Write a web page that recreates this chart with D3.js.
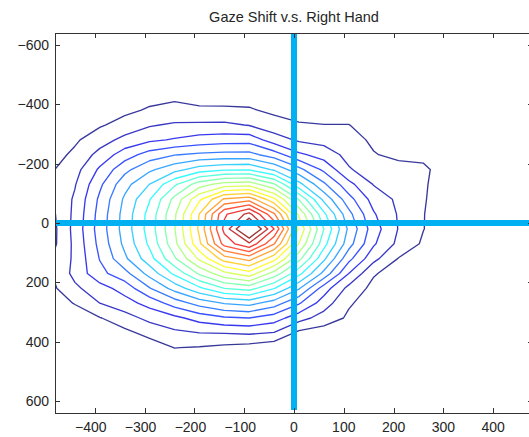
<!DOCTYPE html>
<html>
<head>
<meta charset="utf-8">
<script src="https://cdn.jsdelivr.net/npm/d3@7"></script>
<style>
  body { margin: 0; background: #fff; }
  text { font-family: "Liberation Sans", Arial, Helvetica, sans-serif; fill: #262626; }
</style>
</head>
<body>
<svg id="chart" width="529" height="437"></svg>
<script>
// ---- data -------------------------------------------------------------
const title = "Gaze Shift v.s. Right Hand";

// density grid: columns = gridX, rows = gridY (y grows downward)
const gridX = [-540, -490, -440, -390, -340, -290, -240, -190, -140, -90, -40, 10, 60, 110, 160, 210, 260, 310, 360];
const gridY = [-480, -430, -380, -330, -280, -230, -180, -130, -80, -30, 20, 70, 120, 170, 220, 270, 320, 370, 420, 470];
const density = [
  [0, 0, 0, 0, 0, 0, 0, 0, 0, 0, 0, 0, 0, 0, 0, 0, 0, 0, 0],
  [0, 0.05, 0.1, 0.2, 0.45, 0.7, 0.85, 0.75, 0.6, 0.6, 0.45, 0.35, 0.3, 0.3, 0.15, 0.05, 0, 0, 0],
  [0.05, 0.15, 0.3, 0.5, 0.8, 1.1, 1.2, 1.1, 1.15, 1.1, 0.8, 0.6, 0.55, 0.55, 0.35, 0.2, 0.1, 0, 0],
  [0.1, 0.3, 0.6, 0.9, 1.35, 1.9, 2.15, 2.2, 2.2, 1.95, 1.4, 1.1, 1.02, 1.02, 0.6, 0.45, 0.3, 0.1, 0],
  [0.22, 0.45, 0.86, 1.53, 2.31, 2.8, 3.1, 3.4, 3.55, 3.6, 2.5, 1.84, 1.65, 1.33, 0.85, 0.6, 0.5, 0.2, 0],
  [0.28, 0.6, 1.19, 2.35, 3.5, 4.44, 4.95, 5.2, 5.3, 5.33, 4.5, 3.2, 2.55, 1.69, 1.05, 0.8, 0.8, 0.35, 0.05],
  [0.33, 0.85, 1.63, 3.17, 4.71, 5.82, 6.65, 7.5, 7.86, 7.92, 6.85, 5.3, 3.79, 2.1, 1.46, 1.3, 1.15, 0.6, 0.1],
  [0.37, 0.9, 1.93, 3.8, 5.64, 7.02, 8.83, 10.55, 11.44, 11.61, 10.14, 7.34, 5.19, 3.32, 1.95, 1.55, 1.1, 0.55, 0.1],
  [0.38, 0.92, 2.15, 4.2, 6.17, 7.94, 10.3, 12.81, 15.13, 15.59, 13.24, 9.92, 6.73, 4.38, 2.6, 1.8, 1.07, 0.5, 0.08],
  [0.39, 0.65, 2.25, 4.38, 6.38, 8.35, 10.82, 14.03, 17.83, 19.29, 16.14, 11.82, 8.23, 5.31, 3.1, 1.9, 1.03, 0.4, 0.1],
  [0.4, 0.5, 2.33, 4.46, 6.43, 8.45, 10.94, 14.22, 18.28, 21.9, 18.0, 12.82, 9.0, 5.8, 3.46, 1.95, 1.02, 0.44, 0.14],
  [0.39, 0.55, 2.25, 4.3, 6.25, 8.2, 10.7, 13.8, 17.4, 18.82, 16.06, 11.97, 8.37, 5.41, 3.13, 1.75, 0.85, 0.38, 0.1],
  [0.38, 0.92, 2.2, 4.05, 5.8, 7.6, 9.85, 12.2, 14.5, 15.36, 13.36, 10.31, 7.21, 4.3, 2.3, 0.95, 0.5, 0.29, 0.08],
  [0.36, 0.9, 2.3, 3.7, 4.65, 6.37, 8.21, 10.17, 11.7, 12.6, 10.6, 8.29, 5.7, 3.0, 1.1, 0.5, 0.3, 0.15, 0.05],
  [0.33, 0.7, 1.8, 2.6, 3.4, 4.93, 6.38, 7.79, 9.0, 9.4, 8.05, 6.11, 3.5, 1.7, 0.7, 0.4, 0.2, 0.1, 0],
  [0.27, 0.6, 1.04, 2.0, 2.6, 3.36, 4.46, 5.39, 6.07, 6.36, 5.5, 4.1, 2.5, 1.1, 0.6, 0.37, 0.12, 0.05, 0],
  [0.18, 0.39, 0.6, 0.95, 1.57, 2.3, 2.74, 3.4, 3.85, 4.0, 3.49, 2.4, 1.56, 0.85, 0.42, 0.19, 0.07, 0, 0],
  [0.09, 0.26, 0.47, 0.7, 0.75, 1.3, 1.8, 2.0, 2.05, 2.15, 1.95, 0.75, 0.5, 0.3, 0.15, 0.05, 0, 0, 0],
  [0.05, 0.1, 0.25, 0.35, 0.5, 0.5, 1.02, 0.93, 0.75, 0.6, 0.3, 0.2, 0.1, 0, 0, 0, 0, 0, 0],
  [0, 0, 0.05, 0.1, 0.15, 0.25, 0.4, 0.35, 0.3, 0.2, 0.1, 0.05, 0, 0, 0, 0, 0, 0, 0]
];

// contour levels
const levels = [1, 2, 3, 4, 5, 6, 7, 8, 9, 10, 11, 12, 13, 14, 15, 16, 17, 18, 19, 20];

// axes
const xDomain = [-480, 480];
const yDomain = [-640, 640];
const xTicks = [-400, -300, -200, -100, 0, 100, 200, 300, 400];
const yTicks = [-600, -400, -200, 0, 200, 400, 600];

// reference cross lines
const crossV = { x: 0, y0: -640, y1: 630 };
const crossH = { y: 0, x0: -478, x1: 480 };

// ---- layout -----------------------------------------------------------
const plot = { left: 55, right: 533, top: 33, bottom: 413 };
const x = d3.scaleLinear().domain(xDomain).range([plot.left, plot.right]);
const y = d3.scaleLinear().domain(yDomain).range([plot.top, plot.bottom]);

// MATLAB-style jet colormap
const jet = d3.scaleLinear()
  .domain([0, 0.125, 0.375, 0.625, 0.875, 1])
  .range(["#000080", "#0000ff", "#00ffff", "#ffff00", "#ff0000", "#800000"]);
const lo = levels[0], hi = levels[levels.length - 1];
const levelColor = v => jet((v - lo) / (hi - lo));

const svg = d3.select("#chart");
svg.append("rect").attr("width", 529).attr("height", 437).attr("fill", "#fff");

svg.append("defs").append("clipPath").attr("id", "plotClip")
  .append("rect")
  .attr("x", plot.left).attr("y", plot.top)
  .attr("width", plot.right - plot.left).attr("height", plot.bottom - plot.top);

// ---- contours ---------------------------------------------------------
const nx = gridX.length, ny = gridY.length;
const stepX = gridX[1] - gridX[0], stepY = gridY[1] - gridY[0];
const contours = d3.contours().size([nx, ny]).thresholds(levels)(density.flat());

// grid-index space -> data space -> pixels
const toPixels = d3.geoTransform({
  point(gx, gy) {
    this.stream.point(x(gridX[0] + (gx - 0.5) * stepX), y(gridY[0] + (gy - 0.5) * stepY));
  }
});
const path = d3.geoPath(toPixels);

const body = svg.append("g").attr("clip-path", "url(#plotClip)");
body.selectAll("path.contour")
  .data(contours)
  .join("path")
  .attr("class", "contour")
  .attr("d", path)
  .attr("fill", "none")
  .attr("stroke", d => levelColor(d.value))
  .attr("stroke-opacity", 0.78)
  .attr("stroke-width", 1.35)
  .attr("stroke-linejoin", "round");

// cross lines through the origin
body.append("line")
  .attr("x1", x(crossV.x)).attr("x2", x(crossV.x))
  .attr("y1", y(crossV.y0)).attr("y2", y(crossV.y1))
  .attr("stroke", "#00b0f0").attr("stroke-width", 6);
body.append("line")
  .attr("x1", x(crossH.x0)).attr("x2", x(crossH.x1))
  .attr("y1", y(crossH.y)).attr("y2", y(crossH.y))
  .attr("stroke", "#00b0f0").attr("stroke-width", 6);

// ---- axes box ---------------------------------------------------------
const axisColor = "#333";
const tickLen = 5;
const frame = svg.append("g").attr("stroke", axisColor).attr("stroke-width", 1).attr("fill", "none");
frame.append("rect")
  .attr("x", plot.left + 0.5).attr("y", plot.top + 0.5)
  .attr("width", plot.right - plot.left).attr("height", plot.bottom - plot.top);

xTicks.forEach(t => {
  const px = Math.round(x(t)) + 0.5;
  frame.append("line").attr("x1", px).attr("x2", px).attr("y1", plot.top).attr("y2", plot.top + tickLen);
  frame.append("line").attr("x1", px).attr("x2", px).attr("y1", plot.bottom).attr("y2", plot.bottom - tickLen);
});
yTicks.forEach(t => {
  const py = Math.round(y(t)) + 0.5;
  frame.append("line").attr("y1", py).attr("y2", py).attr("x1", plot.left).attr("x2", plot.left + tickLen);
  frame.append("line").attr("y1", py).attr("y2", py).attr("x1", plot.right).attr("x2", plot.right - tickLen);
});

const fmt = v => (v < 0 ? "\u2212" + Math.abs(v) : String(v));

// x labels: digits centred under the tick, minus sign hangs to the left
svg.append("g").selectAll("text")
  .data(xTicks).join("text")
  .attr("x", d => x(d) - (d < 0 ? 4 : 0)).attr("y", plot.bottom + 19)
  .attr("text-anchor", "middle")
  .attr("font-size", 14)
  .text(fmt);

svg.append("g").selectAll("text")
  .data(yTicks).join("text")
  .attr("x", plot.left - 6).attr("y", d => y(d) + 5)
  .attr("text-anchor", "end")
  .attr("font-size", 14)
  .text(fmt);

svg.append("text")
  .attr("x", (plot.left + plot.right) / 2).attr("y", 22)
  .attr("text-anchor", "middle")
  .attr("font-size", 14.5)
  .text(title);
</script>
</body>
</html>
